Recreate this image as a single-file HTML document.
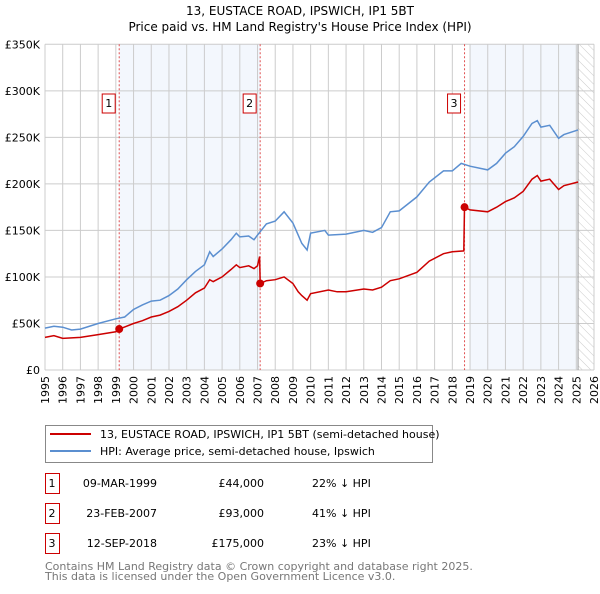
<!DOCTYPE html>
<html><head><meta charset="utf-8"><style>
body{margin:0;background:#fff;font-family:"DejaVu Sans","Liberation Sans",sans-serif;}
svg text{font-family:"DejaVu Sans","Liberation Sans",sans-serif;}
</style></head><body>
<svg id="c" width="600" height="590" xmlns="http://www.w3.org/2000/svg">
<defs><pattern id="hatch" width="6" height="6" patternUnits="userSpaceOnUse" patternTransform="rotate(-45)"><line x1="0" y1="0" x2="0" y2="6" stroke="#ccc" stroke-width="1"/></pattern></defs>
<text x="300" y="15" text-anchor="middle" font-size="12">13, EUSTACE ROAD, IPSWICH, IP1 5BT</text>
<text x="300" y="31" text-anchor="middle" font-size="12">Price paid vs. HM Land Registry's House Price Index (HPI)</text>
<g id="plot"></g>
<g>
<rect x="45.5" y="425.5" width="387" height="37" fill="#fff" stroke="#888"/>
<line x1="50" y1="434" x2="91" y2="434" stroke="#cc0000" stroke-width="2"/>
<text x="100" y="438" font-size="11">13, EUSTACE ROAD, IPSWICH, IP1 5BT (semi-detached house)</text>
<line x1="50" y1="451" x2="91" y2="451" stroke="#5b8fd0" stroke-width="2"/>
<text x="100" y="455" font-size="11">HPI: Average price, semi-detached house, Ipswich</text>
</g>
<g id="table" font-size="11"></g>
<text x="45" y="570" font-size="11" fill="#777">Contains HM Land Registry data © Crown copyright and database right 2025.</text>
<text x="45" y="580" font-size="11" fill="#777">This data is licensed under the Open Government Licence v3.0.</text>
</svg>
<script>
const hpiYears=[1995,1995.5,1996,1996.5,1997,1998,1999,1999.5,2000,2000.5,2001,2001.5,2002,2002.5,2003,2003.5,2004,2004.3,2004.5,2005,2005.5,2005.8,2006,2006.5,2006.8,2007,2007.5,2008,2008.5,2009,2009.3,2009.5,2009.8,2010,2010.8,2011,2012,2013,2013.5,2014,2014.5,2015,2016,2016.7,2017.5,2018,2018.5,2019,2020,2020.5,2021,2021.5,2022,2022.5,2022.8,2023,2023.5,2024,2024.3,2025.1];
const hpiValues=[45,47,46,43,44,50,55,57,65,70,74,75,80,87,97,106,113,127,122,130,140,147,143,144,140,145,157,160,170,158,145,136,129,147,150,145,146,150,148,153,170,171,186,202,214,214,222,219,215,222,233,240,251,265,268,261,263,249,253,258];
const priceYears=[1995,1995.5,1996,1997,1998,1999,1999.19,2000,2000.5,2001,2001.5,2002,2002.5,2003,2003.5,2004,2004.3,2004.5,2005,2005.5,2005.8,2006,2006.5,2006.8,2007,2007.12,2007.15,2007.5,2008,2008.5,2009,2009.3,2009.5,2009.8,2010,2011,2011.5,2012,2013,2013.5,2014,2014.5,2015,2016,2016.7,2017.5,2018,2018.65,2018.69,2019,2020,2020.5,2021,2021.5,2022,2022.5,2022.8,2023,2023.5,2024,2024.3,2025.1];
const priceValues=[35,37,34,35,38,41,44,50,53,57,59,63,68,75,83,88,97,95,100,108,113,110,112,109,112,122,93,96,97,100,93,84,80,75,82,86,84,84,87,86,89,96,98,105,117,125,127,128,175,172,170,175,181,185,192,205,209,203,205,194,198,202];
const saleYears=[1999.19,2007.15,2018.69];
const saleValues=[44,93,175];
const saleLabels=["1","2","3"];
const saleDates=["09-MAR-1999","23-FEB-2007","12-SEP-2018"];
const salePrices=["£44,000","£93,000","£175,000"];
const saleDiffs=["22% ↓ HPI","41% ↓ HPI","23% ↓ HPI"];
const yTicks=[0,50,100,150,200,250,300,350];
const yTickLabels=["£0","£50K","£100K","£150K","£200K","£250K","£300K","£350K"];
const xTicks=[1995,1996,1997,1998,1999,2000,2001,2002,2003,2004,2005,2006,2007,2008,2009,2010,2011,2012,2013,2014,2015,2016,2017,2018,2019,2020,2021,2022,2023,2024,2025,2026];

const NS="http://www.w3.org/2000/svg";
const X0=45,X1=594,Y0=370,Y1=44.3;
const xs=y=>X0+(y-1995)/(2026-1995)*(X1-X0);
const ys=v=>Y0-v/350*(Y0-Y1);
const plot=document.getElementById('plot');
function mk(tag,attrs,parent){const e=document.createElementNS(NS,tag);for(const k in attrs)e.setAttribute(k,attrs[k]);(parent||plot).appendChild(e);return e;}
// shading
let s=mk('rect',{x:xs(saleYears[0]),y:Y1,width:xs(saleYears[1])-xs(saleYears[0]),height:Y0-Y1,fill:'#eef3fc',opacity:0.7});


s=mk('rect',{x:xs(2019),y:Y1,width:xs(2025.1)-xs(2019),height:Y0-Y1,fill:'#eef3fc',opacity:0.7});


s=mk('rect',{x:xs(2025.1),y:Y1,width:X1-xs(2025.1),height:Y0-Y1,fill:'url(#hatch)'});


// grid
xTicks.forEach((t,i)=>{
 const l=mk('line',{x1:xs(t),x2:xs(t),y1:Y1,y2:Y0,stroke:'#ccc'});
 
 
 const tx=mk('text',{x:0,y:0,'font-size':11,'text-anchor':'end',transform:`translate(${xs(t)+4},${Y0+6}) rotate(-90)`});
 tx.textContent=t;
 
 
});
yTicks.forEach((t,i)=>{
 const l=mk('line',{x1:X0,x2:X1,y1:ys(t),y2:ys(t),stroke:'#ccc'});
 
 
 const tx=mk('text',{x:40,y:ys(t)+4,'font-size':11,'text-anchor':'end'});
 tx.textContent=yTickLabels[i];
 
 
});
let v=mk('line',{x1:xs(2025.1),x2:xs(2025.1),y1:Y1,y2:Y0,stroke:'#999'});


// sale vlines and labels
saleYears.forEach((y,i)=>{
 const l=mk('line',{x1:xs(y),x2:xs(y),y1:Y1,y2:Y0,stroke:'#e05050','stroke-dasharray':'2,2','stroke-width':1});
 
 
 const b=mk('rect',{x:xs(y)-17,y:94,width:13,height:19,fill:'#fff',stroke:'#cc0000'});
 
 
 const t=mk('text',{x:xs(y)-10.5,y:107,'font-size':11,'text-anchor':'middle'});
 t.textContent=saleLabels[i];
 
 
});
const hp=mk('path',{d:hpiYears.map((y,i)=>(i?'L':'M')+xs(y).toFixed(1)+','+ys(hpiValues[i]).toFixed(1)).join(''),fill:'none',stroke:'#5b8fd0','stroke-width':1.5});


const pp=mk('path',{d:priceYears.map((y,i)=>(i?'L':'M')+xs(y).toFixed(1)+','+ys(priceValues[i]).toFixed(1)).join(''),fill:'none',stroke:'#cc0000','stroke-width':1.5});


saleYears.forEach((y,i)=>{
 const c=mk('circle',{cx:xs(y),cy:ys(saleValues[i]),r:4,fill:'#cc0000'});
 
 
});
// table
const tb=document.getElementById('table');
saleLabels.forEach((lab,i)=>{
 const cy=483+i*30;
 const b=mk('rect',{x:45.5,y:cy-9.5,width:14,height:20,fill:'#fff',stroke:'#cc0000'},tb);
 
 
 const cells=[[52,lab,'middle'],[157,saleDates[i],'end'],[264,salePrices[i],'end'],[312,saleDiffs[i],'start']];
 cells.forEach(c=>{
  const t=mk('text',{x:c[0],y:cy+4,'text-anchor':c[2]},tb);
  t.textContent=c[1];
  
  
 });
});
</script>
</body></html>
